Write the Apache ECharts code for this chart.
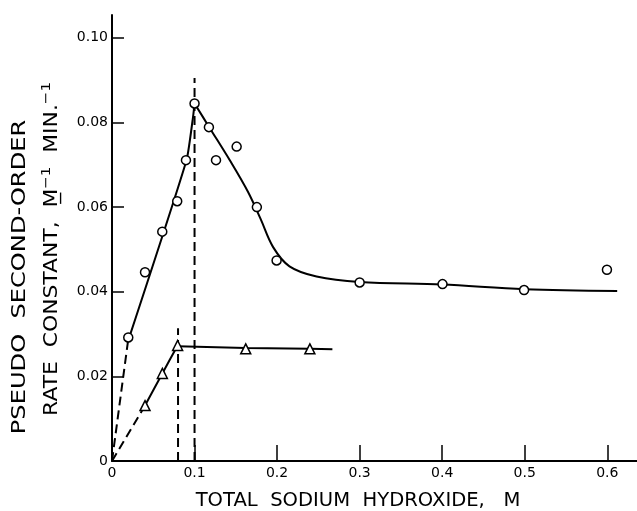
<!DOCTYPE html>
<html>
<head>
<meta charset="utf-8">
<script src="https://cdn.jsdelivr.net/npm/echarts@6/dist/echarts.min.js"></script>
<style>
  html, body { margin: 0; padding: 0; background: #fff; }
  #chart { width: 637px; height: 511px; }
</style>
</head>
<body>
<div id="chart"></div>
<script>
// 数据
var xTicks = [0, 0.1, 0.2, 0.3, 0.4, 0.5, 0.6];
var yTicks = [0, 0.02, 0.04, 0.06, 0.08, 0.10];

// circles: measured points
var circlePts = [
    [0.0197, 0.0292], [0.040, 0.0446], [0.0609, 0.0542], [0.079, 0.0614],
    [0.0896, 0.0711], [0.100, 0.0845], [0.1174, 0.0789], [0.126, 0.0711],
    [0.151, 0.0743], [0.1755, 0.0600], [0.1994, 0.0474], [0.300, 0.0422],
    [0.4004, 0.0418], [0.4992, 0.0404], [0.5996, 0.0452]
];
// triangles: measured points
var trianglePts = [
    [0.040, 0.0131], [0.061, 0.0207], [0.0795, 0.0273], [0.162, 0.0265], [0.2397, 0.0265]
];

// drawn curves
var circleDash = [[0, 0], [0.0197, 0.0288]];
var circleRise = [[0.0197, 0.0285], [0.0904, 0.0712], [0.0985, 0.0818], [0.100, 0.0845]];
var circleFall = [
    [0.100, 0.0845], [0.1174, 0.0790], [0.1429, 0.0710], [0.165, 0.0635], [0.180, 0.0572],
    [0.195, 0.0506], [0.215, 0.0460], [0.2478, 0.0436], [0.300, 0.0423],
    [0.400, 0.0417], [0.500, 0.0406], [0.612, 0.0402]
];
var triDash = [[0, 0], [0.040, 0.0131]];
var triRise = [[0.040, 0.0131], [0.061, 0.0207], [0.0795, 0.0273]];
var triFlat = [[0.0795, 0.0271], [0.162, 0.0267], [0.240, 0.0265], [0.267, 0.0264]];

var vLine1 = [[0.1, 0], [0.1, 0.0905]];
var vLine2 = [[0.08, 0], [0.08, 0.0314]];

var chart = echarts.init(document.getElementById('chart'));

function lineSeries(data, dashed, smooth) {
    return {
        type: 'line',
        data: data,
        symbol: 'none',
        smooth: smooth || false,
        silent: true,
        lineStyle: {
            color: '#000',
            width: 2,
            type: dashed ? [9, 5] : 'solid'
        },
        z: 2
    };
}

var markStyle = { color: '#fff', borderColor: '#000', borderWidth: 1.5, opacity: 1 };

var option = {
    animation: false,
    backgroundColor: '#fff',
    grid: {
        left: 112,
        top: 15,
        right: 0,
        bottom: 50
    },
    xAxis: {
        type: 'value',
        min: 0,
        max: 0.636,
        axisLine: { lineStyle: { color: '#000', width: 2 } },
        axisTick: {
            inside: true,
            length: 16,
            lineStyle: { color: '#000', width: 1.5 },
            customValues: xTicks
        },
        axisLabel: {
            color: '#000',
            fontFamily: 'DejaVu Sans',
            fontSize: 14,
            margin: 5,
            customValues: xTicks,
            formatter: function (v) { return v === 0 ? '0' : v.toFixed(1); }
        },
        splitLine: { show: false }
    },
    yAxis: {
        type: 'value',
        min: 0,
        max: 0.1054,
        axisLine: { show: true, lineStyle: { color: '#000', width: 2 } },
        axisTick: {
            show: true,
            inside: true,
            length: 12,
            lineStyle: { color: '#000', width: 1.5 },
            customValues: yTicks
        },
        axisLabel: {
            color: '#000',
            fontFamily: 'DejaVu Sans',
            fontSize: 14,
            margin: 4,
            customValues: yTicks,
            formatter: function (v) { return v === 0 ? '0' : v.toFixed(2); }
        },
        splitLine: { show: false }
    },
    series: [
        lineSeries(circleDash, true),
        lineSeries(circleRise, false, 0.15),
        lineSeries(circleFall, false, 0.35),
        lineSeries(triDash, true),
        lineSeries(triRise, false, 0.2),
        lineSeries(triFlat, false),
        lineSeries(vLine1, true),
        lineSeries(vLine2, true),
        {
            type: 'scatter',
            data: circlePts,
            symbol: 'circle',
            symbolSize: 9,
            itemStyle: markStyle,
            z: 5
        },
        {
            type: 'scatter',
            data: trianglePts,
            symbol: 'triangle',
            symbolSize: 10,
            itemStyle: markStyle,
            z: 5
        }
    ],
    graphic: [
        {
            type: 'text',
            x: 358,
            y: 501,
            scaleX: 1.03,
            style: {
                text: 'TOTAL  SODIUM  HYDROXIDE,   M',
                fontFamily: 'DejaVu Sans',
                fontSize: 19,
                fill: '#000',
                align: 'center',
                verticalAlign: 'middle'
            }
        },
        {
            type: 'text',
            x: 20,
            y: 277,
            rotation: Math.PI / 2,
            scaleX: 1.27,
            style: {
                text: 'PSEUDO  SECOND-ORDER',
                fontFamily: 'DejaVu Sans',
                fontSize: 19,
                fill: '#000',
                align: 'center',
                verticalAlign: 'middle'
            }
        },
        {
            type: 'text',
            x: 52,
            y: 249,
            rotation: Math.PI / 2,
            scaleX: 1.15,
            style: {
                text: 'RATE  CONSTANT,  M\u0332{s|\u22121}  MIN.{s|\u22121}',
                fontFamily: 'DejaVu Sans',
                fontSize: 19,
                fill: '#000',
                align: 'center',
                verticalAlign: 'middle',
                rich: {
                    s: { fontFamily: 'DejaVu Sans', fontSize: 13, fill: '#000', padding: [0, 0, 10, 0] }
                }
            }
        }
    ]
};

chart.setOption(option);
</script>
</body>
</html>
